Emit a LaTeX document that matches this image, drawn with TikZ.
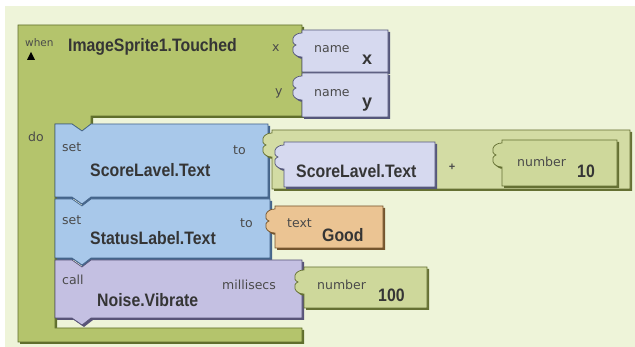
\documentclass[tikz,border=0pt]{standalone}
\usepackage{fontspec}
\setmainfont{Liberation Sans}
\newfontfamily\smallf{DejaVu Sans}
\usepackage{graphicx}
\definecolor{bg}{HTML}{EEF4D9}
\definecolor{evgreen}{HTML}{B4C46C}
\definecolor{evdark}{HTML}{5F6E2C}
\definecolor{blueb}{HTML}{A8C8EA}
\definecolor{bluedark}{HTML}{44648A}
\definecolor{lav}{HTML}{D6D9EF}
\definecolor{lavdark}{HTML}{55577A}
\definecolor{noise}{HTML}{C4C0E2}
\definecolor{noisedark}{HTML}{585478}
\definecolor{orangeb}{HTML}{EBC493}
\definecolor{orangedark}{HTML}{74552E}
\definecolor{numg}{HTML}{CED89B}
\definecolor{numdark}{HTML}{657033}
\definecolor{plusg}{HTML}{D3DCA4}
\definecolor{txt}{HTML}{353535}
\definecolor{lbltxt}{HTML}{4A4A4A}
\newcommand\cond[1]{\scalebox{0.88}[1]{#1}}
\newcommand\valblk[6]{%
  \path[blk={#5}{#6}] (#1,#2) -- (#3,#2) -- (#3,#4) -- (#1,#4) -- (#1,#2+27)
    .. controls (#1-10,#2+27) and (#1-12,#2+17) .. (#1-6,#2+15)
    .. controls (#1-12,#2+13) and (#1-10,#2+3) .. (#1,#2+3) -- cycle;}
\newcommand\stmtblk[6]{%
  \path[blk={#5}{#6}] (#1,#2) -- (#1+17,#2) -- (#1+27,#2+7) -- (#1+36,#2) -- (#3,#2)
    -- (#3,#4) -- (#1+36,#4) -- (#1+27,#4+7) -- (#1+17,#4) -- (#1,#4) -- cycle;}
\begin{document}
\begin{tikzpicture}[x=1pt,y=-1pt,
  blk/.style 2 args={fill=#1, draw=#2, line width=0.7pt,
    preaction={fill=#2, transform canvas={shift={(2pt,-2pt)}}}},
  big/.style={anchor=base west, inner sep=0pt, text=txt,
    font=\fontsize{18}{18}\selectfont\bfseries},
  lbl/.style={anchor=base west, inner sep=0pt, text=lbltxt,
    font=\smallf\fontsize{12.5}{12.5}\selectfont}]
\useasboundingbox (0,0) rectangle (635,347);
\fill[white] (0,0) rectangle (635,347);
\fill[bg] (5,6) rectangle (635,347);
% event block
\path[blk={evgreen}{evdark}] (18,25) -- (302,25) -- (302,116) -- (91,116) -- (91,124)
  -- (82,131) -- (72,124) -- (55,124) -- (55,328) -- (302,328) -- (302,342) -- (18,342) -- cycle;
\node[lbl, font=\smallf\fontsize{10.5}{10.5}\selectfont] (when) at (25,47) {when};
\fill[black] (27,60) -- (35,60) -- (31,52) -- cycle;
\node[big] (ev) at (68,52) {\cond{ImageSprite1.Touched}};
\node[lbl] (lx) at (272,52) {x};
\node[lbl] (ly) at (275,96) {y};
\node[lbl] (do) at (28,142) {do};
% name blocks
\valblk{302}{30}{388}{72}{lav}{lavdark}
\valblk{302}{73}{388}{117}{lav}{lavdark}
\node[lbl] (n1) at (314,53) {name};
\node[big] (vx) at (362,65) {x};
\node[lbl] (n2) at (314,97) {name};
\node[big] (vy) at (362,108) {y};
% set ScoreLavel
\stmtblk{55}{124}{268}{197}{blueb}{bluedark}
\node[lbl] (set1) at (62,152) {set};
\node[big] (sl1) at (90,177) {\cond{ScoreLavel.Text}};
\node[lbl] (to1) at (233,155) {to};
% plus block
\valblk{272}{130}{630}{189}{plusg}{numdark}
\valblk{284}{142}{435}{187}{lav}{lavdark}
\node[big] (sl2) at (296,178) {\cond{ScoreLavel.Text}};
\node[lbl, anchor=center, font=\bfseries\fontsize{11}{11}\selectfont] (plus) at (452,167) {+};
\valblk{502}{140}{617}{186}{numg}{numdark}
\node[lbl] (num1) at (517,167) {number};
\node[big] (ten) at (577,178) {\cond{10}};
% set StatusLabel
\stmtblk{55}{199}{270}{258}{blueb}{bluedark}
\node[lbl] (set2) at (62,225) {set};
\node[big] (stl) at (90,245) {\cond{StatusLabel.Text}};
\node[lbl] (to2) at (240,228) {to};
\valblk{275}{206}{383}{248}{orangeb}{orangedark}
\node[lbl] (txt) at (287,228) {text};
\node[big] (good) at (322,242) {\cond{Good}};
% call Noise.Vibrate
\stmtblk{55}{260}{302}{318}{noise}{noisedark}
\node[lbl] (call) at (62,285) {call};
\node[big] (nv) at (97,307) {\cond{Noise.Vibrate}};
\node[lbl] (ms) at (222,290) {millisecs};
\valblk{304}{267}{427}{308}{numg}{numdark}
\node[lbl] (num2) at (317,290) {number};
\node[big] (hund) at (378,302) {\cond{100}};
\end{tikzpicture}
\end{document}
